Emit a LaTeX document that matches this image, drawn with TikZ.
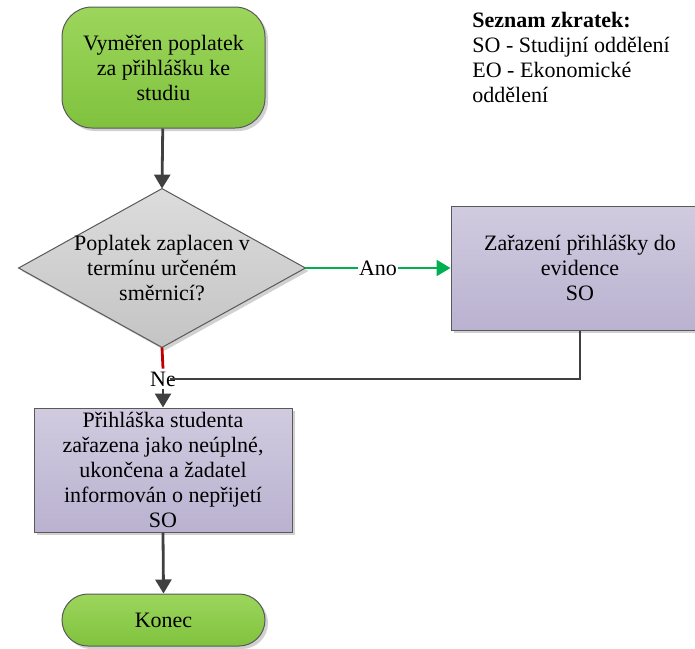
\documentclass[tikz,border=0pt]{standalone}
\usepackage{fontspec}
\setmainfont{Liberation Serif}
\usepackage{tikz}
\usetikzlibrary{arrows.meta, shadows, positioning}

\definecolor{lineclr}{HTML}{404040}
\definecolor{greenclr}{HTML}{00B050}
\definecolor{redclr}{HTML}{C00000}
\definecolor{borderclr}{HTML}{595959}
\definecolor{termtop}{HTML}{9CD65C}
\definecolor{termbot}{HTML}{80C23E}
\definecolor{proctop}{HTML}{D1CBE0}
\definecolor{procbot}{HTML}{BAB2D0}
\definecolor{dectop}{HTML}{DCDCDC}
\definecolor{decbot}{HTML}{C4C4C4}

\tikzset{
    shade box/.style={drop shadow={shadow xshift=1.5pt, shadow yshift=-1.5pt, fill=black!18, opacity=1}},
    terminal/.style={draw=borderclr, line width=0.5pt, rounded corners=15pt, shade box,
        top color=termtop, bottom color=termbot, minimum width=101.5pt, align=center},
    process/.style={draw=borderclr, line width=0.5pt, shade box,
        top color=proctop, bottom color=procbot,
        minimum width=129pt, minimum height=62pt, align=center, inner sep=1pt},
    flow/.style={draw=lineclr, line width=1.4pt, -{Triangle[width=8pt, length=7pt]}},
    lbl/.style={fill=white, inner sep=0.5pt}
}

\begin{document}
\begin{tikzpicture}[x=0.5pt, y=-0.5pt, font=\fontsize{11}{12.5}\selectfont]
    \useasboundingbox (0,0) rectangle (695,648);
    \clip (0,0) rectangle (695,648);

    % uzly
    \node[terminal, minimum height=60.5pt] (start) at (163.5,67.5)
        {Vyměřen poplatek\\za přihlášku ke\\studiu};
    \path node[minimum width=143pt, minimum height=79pt, inner sep=0pt] (dec) at (162,268) {};
    \draw[draw=borderclr, line width=0.5pt, shade box, top color=dectop, bottom color=decbot]
        (dec.north) -- (dec.east) -- (dec.south) -- (dec.west) -- cycle;
    \node[align=center] (dectext) at (dec) {Poplatek zaplacen v\\termínu určeném\\směrnicí?};
    \node[process] (evid) at (580,268) {Zařazení přihlášky do\\evidence\\SO};
    \node[process] (neupl) at (163,470)
        {Přihláška studenta\\zařazena jako neúplné,\\ukončena a žadatel\\informován o nepřijetí\\SO};
    \node[terminal, minimum height=26pt, rounded corners=13pt] (konec) at (163.5,620) {Konec};
    \node (ne) at (163,379) {Ne};

    % spojnice
    \draw[flow] (start) -- (dec.north);
    \draw[flow, draw=greenclr, fill=greenclr, line width=1.1pt] (dec.east) -- node[lbl] (ano) {Ano} (evid.west);
    \draw[draw=redclr, line width=1.4pt] (dec.south) -- ([yshift=-2pt]ne.north);
    \draw[draw=lineclr, line width=1.4pt] (evid.south) |- ([xshift=3.5pt]ne.center);
    \draw[flow] ([yshift=2pt]ne.south) -- (neupl.north);
    \draw[flow] (neupl.south) -- (konec.north);

    % legenda
    \node[anchor=north west, align=left, inner sep=0pt] (legend) at (472,12)
        {\textbf{Seznam zkratek:}\\SO - Studijní oddělení\\EO - Ekonomické\\oddělení};
\end{tikzpicture}
\end{document}
